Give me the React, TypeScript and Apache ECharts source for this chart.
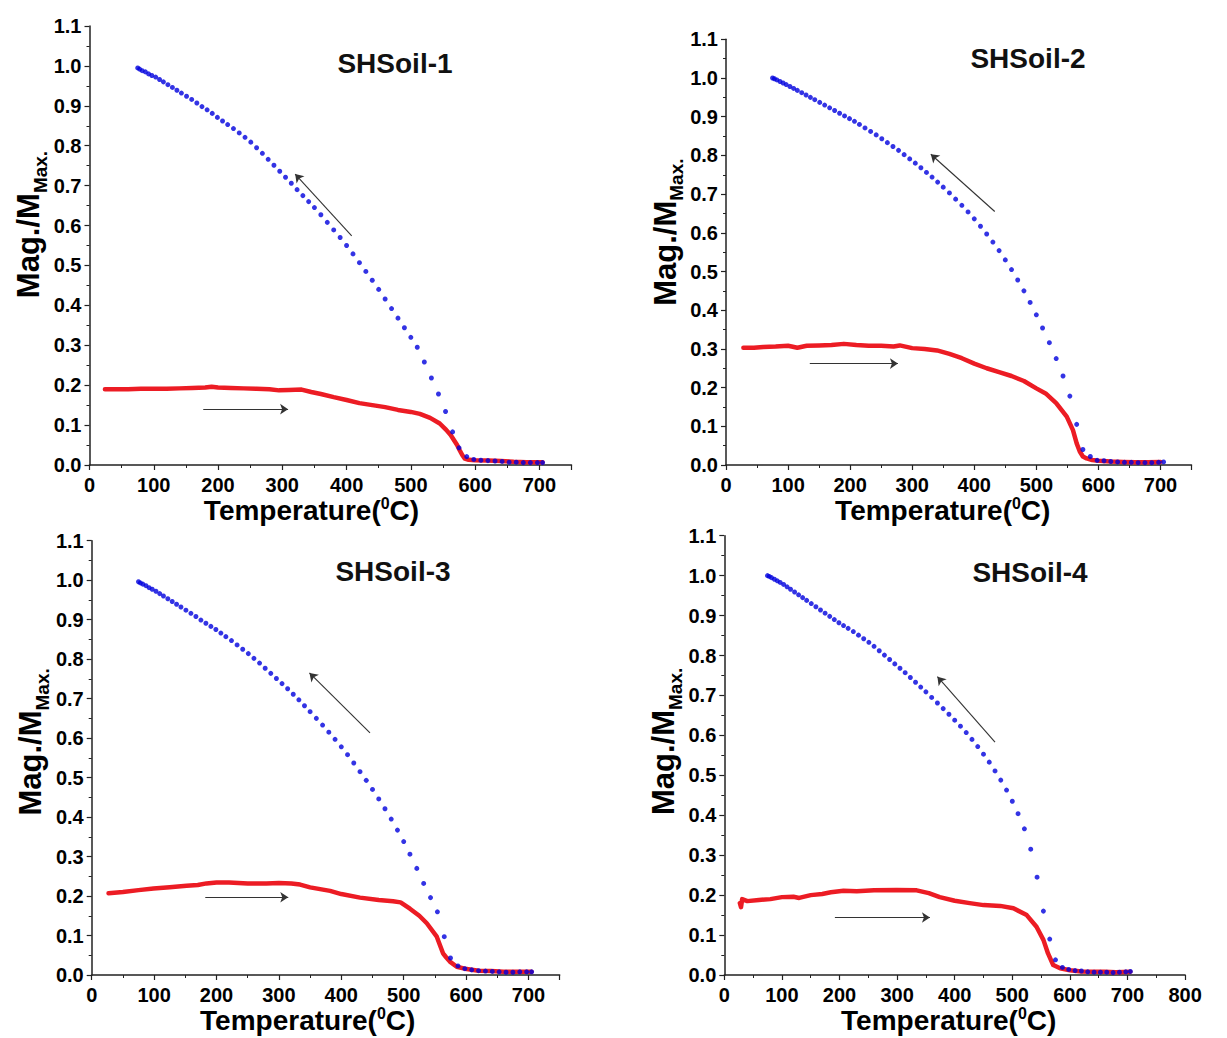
import React, { useEffect, useRef } from "react";
import * as echarts from "echarts";

// ---------- data ----------
const panelTitles = ["SHSoil-1", "SHSoil-2", "SHSoil-3", "SHSoil-4"];
const xAxisMax = [750, 750, 750, 800];

// cooling run (blue dots): shared temperatures (°C)
const coolTemps = [
  75, 78, 82, 87, 92, 97, 103, 109, 115, 122, 129, 136, 143, 151, 159, 167, 175, 183, 191, 199,
  207, 215, 224, 233, 242, 251, 260, 269, 278, 287, 296, 305, 314, 323, 332, 341, 350, 360, 370, 380,
  390, 400, 410, 420, 430, 440, 450, 460, 470, 480, 490, 500, 510, 521, 532, 543, 554, 565, 575, 587,
  598, 609, 620, 631, 642, 653, 664, 675, 686, 697, 705,
];
const cool1 = [
  0.995, 0.992, 0.988, 0.985, 0.98, 0.976, 0.972, 0.966, 0.96, 0.953, 0.946, 0.939, 0.932, 0.924, 0.916, 0.907, 0.898, 0.89, 0.881, 0.871,
  0.862, 0.853, 0.843, 0.832, 0.821, 0.809, 0.795, 0.781, 0.766, 0.751, 0.736, 0.721, 0.706, 0.69, 0.675, 0.66, 0.645, 0.627, 0.608, 0.589,
  0.57, 0.55, 0.529, 0.507, 0.485, 0.463, 0.44, 0.416, 0.392, 0.368, 0.344, 0.32, 0.295, 0.258, 0.218, 0.178, 0.134, 0.083, 0.043, 0.021,
  0.014, 0.012, 0.011, 0.01, 0.009, 0.007, 0.007, 0.006, 0.006, 0.006, 0.006,
];
const cool2 = [
  1.0, 0.998, 0.995, 0.991, 0.987, 0.983, 0.978, 0.973, 0.968, 0.962, 0.956, 0.95, 0.944, 0.937, 0.93, 0.923, 0.916, 0.909, 0.902, 0.895,
  0.888, 0.88, 0.871, 0.862, 0.853, 0.843, 0.833, 0.823, 0.813, 0.802, 0.791, 0.78, 0.768, 0.756, 0.744, 0.731, 0.718, 0.703, 0.687, 0.671,
  0.654, 0.636, 0.617, 0.597, 0.576, 0.554, 0.53, 0.505, 0.478, 0.45, 0.42, 0.388, 0.354, 0.316, 0.275, 0.23, 0.178, 0.105, 0.04, 0.022,
  0.012, 0.011, 0.009, 0.008, 0.007, 0.007, 0.006, 0.006, 0.006, 0.007, 0.008,
];
const cool3 = [
  0.996, 0.993, 0.99, 0.986, 0.981, 0.977, 0.972, 0.966, 0.96, 0.953, 0.946, 0.939, 0.932, 0.924, 0.916, 0.908, 0.899, 0.891, 0.883, 0.875,
  0.866, 0.857, 0.847, 0.836, 0.825, 0.814, 0.802, 0.79, 0.777, 0.764, 0.751, 0.738, 0.725, 0.711, 0.697, 0.682, 0.667, 0.65, 0.633, 0.615,
  0.597, 0.578, 0.558, 0.537, 0.515, 0.493, 0.47, 0.446, 0.421, 0.395, 0.367, 0.338, 0.306, 0.27, 0.232, 0.196, 0.16, 0.097, 0.043, 0.023,
  0.016, 0.013, 0.011, 0.01, 0.009, 0.008, 0.007, 0.007, 0.008, 0.008, 0.008,
];
const cool4 = [
  1.0, 0.998, 0.995, 0.991, 0.987, 0.983, 0.978, 0.972, 0.966, 0.959, 0.952, 0.945, 0.938, 0.93, 0.922, 0.914, 0.906, 0.898, 0.89, 0.882,
  0.875, 0.868, 0.86, 0.851, 0.842, 0.833, 0.823, 0.812, 0.801, 0.79, 0.779, 0.768, 0.757, 0.745, 0.733, 0.721, 0.709, 0.695, 0.681, 0.667,
  0.653, 0.638, 0.623, 0.607, 0.59, 0.572, 0.553, 0.533, 0.511, 0.488, 0.463, 0.435, 0.404, 0.366, 0.315, 0.245, 0.16, 0.09, 0.038, 0.019,
  0.014, 0.011, 0.01, 0.008, 0.007, 0.007, 0.007, 0.006, 0.007, 0.008, 0.009,
];

// heating run (red line)
const heatT1 = [24, 40, 60, 80, 100, 120, 140, 160, 180, 190, 200, 220, 240, 260, 280, 295, 310, 330, 345, 360, 380, 400, 420, 440, 460, 480, 500, 514, 530, 545, 555, 562, 568, 572, 576, 580, 584, 590, 600, 620, 640, 660, 680, 705];
const heatY1 = [0.19, 0.19, 0.19, 0.191, 0.191, 0.191, 0.192, 0.193, 0.194, 0.196, 0.194, 0.193, 0.192, 0.191, 0.19, 0.187, 0.188, 0.189, 0.183, 0.178, 0.17, 0.163, 0.155, 0.15, 0.145, 0.138, 0.133, 0.128, 0.118, 0.104, 0.088, 0.075, 0.06, 0.05, 0.037, 0.025, 0.016, 0.013, 0.012, 0.011, 0.01, 0.008, 0.007, 0.007];
const heatT2 = [28, 45, 60, 80, 100, 115, 130, 150, 170, 190, 210, 230, 250, 270, 280, 300, 320, 340, 360, 380, 400, 420, 440, 460, 480, 500, 515, 532, 549, 559, 565, 570, 575, 581, 590, 600, 620, 640, 660, 680, 700];
const heatY2 = [0.303, 0.303, 0.305, 0.306, 0.308, 0.303, 0.308, 0.309, 0.31, 0.313, 0.31, 0.308, 0.308, 0.306, 0.309, 0.302, 0.3, 0.296, 0.287, 0.276, 0.262, 0.25, 0.24, 0.23, 0.217, 0.198, 0.185, 0.16, 0.125, 0.09, 0.056, 0.035, 0.022, 0.017, 0.013, 0.011, 0.009, 0.008, 0.007, 0.007, 0.008];
const heatT3 = [27, 50, 75, 99, 125, 152, 170, 184, 200, 220, 250, 280, 300, 320, 334, 350, 382, 400, 430, 460, 483, 495, 510, 525, 537, 553, 563, 568, 574, 585, 601, 620, 640, 660, 680, 705];
const heatY3 = [0.207, 0.21, 0.215, 0.219, 0.222, 0.226, 0.228, 0.232, 0.234, 0.234, 0.232, 0.232, 0.233, 0.232, 0.229, 0.222, 0.213, 0.205, 0.196, 0.19, 0.187, 0.184, 0.168, 0.15, 0.131, 0.097, 0.055, 0.045, 0.034, 0.021, 0.015, 0.011, 0.01, 0.008, 0.008, 0.008];
const heatT4 = [27, 29, 31, 40, 60, 80, 100, 120, 130, 150, 170, 185, 207, 230, 260, 299, 334, 355, 374, 400, 426, 450, 479, 502, 525, 542, 554, 562, 571, 583, 600, 620, 640, 660, 680, 705];
const heatY4 = [0.18, 0.17, 0.19, 0.185, 0.188, 0.19, 0.195, 0.196, 0.193, 0.2, 0.203, 0.207, 0.211, 0.21, 0.212, 0.213, 0.212, 0.205, 0.195, 0.186, 0.18, 0.175, 0.173, 0.167, 0.15, 0.121, 0.088, 0.054, 0.025, 0.017, 0.012, 0.009, 0.008, 0.008, 0.007, 0.008];

// annotation arrows (data coordinates: [from, to])
const coolArrows = [
  [[408, 0.574], [320, 0.729]],
  [[433, 0.655], [330, 0.803]],
  [[446, 0.613], [349, 0.765]],
  [[470, 0.583], [370, 0.747]],
];
const heatArrows = [
  [[177, 0.14], [309, 0.14]],
  [[135, 0.262], [277, 0.262]],
  [[182, 0.197], [315, 0.197]],
  [[192, 0.144], [357, 0.144]],
];

const coolSets = [cool1, cool2, cool3, cool4];
const heatSets = [
  [heatT1, heatY1],
  [heatT2, heatY2],
  [heatT3, heatY3],
  [heatT4, heatY4],
];

// ---------- layout ----------
const FF = "'Liberation Sans', Arial, sans-serif";
const grids = [
  { left: 89.5, top: 26, width: 482, height: 439 },
  { left: 726, top: 39.3, width: 465.5, height: 425.7 },
  { left: 91.7, top: 540.7, width: 468, height: 434.3 },
  { left: 724.3, top: 535.7, width: 460.8, height: 439.3 },
];
const yNameShift = [21, 20, 16, 14];
const xNameShift = [19, 16, 18, 6];
const titlePos = [
  [395, 63],
  [1028, 58],
  [393, 571],
  [1030, 572],
];

const RED = "#ec1c24";
const BLUE = "#0000dd";
const AXIS = "#222";

function buildOption() {
  const xAxis: any[] = [];
  const yAxis: any[] = [];
  const series: any[] = [];
  const graphic: any[] = [];

  grids.forEach((g, i) => {
    xAxis.push({
      gridIndex: i,
      type: "value",
      min: 0,
      max: xAxisMax[i],
      interval: 100,
      name: "{a|Temperature(}{s|0}{a|C)}",
      nameLocation: "middle",
      nameGap: 28,
      nameTextStyle: {
        padding: [0, xNameShift[i] * 2, 0, 0],
        rich: {
          a: { fontSize: 28, fontWeight: "bold", fontFamily: FF, color: "#000", lineHeight: 30 },
          s: { fontSize: 16, fontWeight: "bold", fontFamily: FF, color: "#000", lineHeight: 16, verticalAlign: "top" },
        },
      },
      axisLine: { show: true, onZero: false, lineStyle: { color: AXIS, width: 1.5 } },
      axisTick: { show: true, inside: false, length: 5, lineStyle: { color: AXIS, width: 1.2 } },
      minorTick: { show: true, splitNumber: 2, length: 3, lineStyle: { color: AXIS, width: 1 } },
      splitLine: { show: false },
      minorSplitLine: { show: false },
      axisLabel: {
        margin: 10,
        fontSize: 20,
        fontWeight: "bold",
        fontFamily: FF,
        color: "#000",
        formatter: (v: number) => (v % 100 === 0 ? String(v) : ""),
      },
    });
    yAxis.push({
      gridIndex: i,
      type: "value",
      min: 0,
      max: 1.1,
      interval: 0.1,
      name: "{a|Mag./M}{b|Max.}",
      nameLocation: "middle",
      nameRotate: 90,
      nameGap: 32,
      nameTextStyle: {
        padding: [0, 0, 0, yNameShift[i] * 2],
        rich: {
          a: { fontSize: 31, fontWeight: "bold", fontFamily: FF, color: "#000", lineHeight: 42 },
          b: { fontSize: 19, fontWeight: "bold", fontFamily: FF, color: "#000", lineHeight: 19, verticalAlign: "bottom" },
        },
      },
      axisLine: { show: true, onZero: false, lineStyle: { color: AXIS, width: 1.5 } },
      axisTick: { show: true, inside: false, length: 5, lineStyle: { color: AXIS, width: 1.2 } },
      minorTick: { show: true, splitNumber: 2, length: 3, lineStyle: { color: AXIS, width: 1 } },
      splitLine: { show: false },
      minorSplitLine: { show: false },
      axisLabel: {
        margin: 8,
        fontSize: 20,
        fontWeight: "bold",
        fontFamily: FF,
        color: "#000",
        formatter: (v: number) => v.toFixed(1),
      },
    });

    const [hT, hY] = heatSets[i];
    const heatData = hT.map((t, k) => [t, hY[k]]);
    const cool = coolSets[i];
    const coolData = coolTemps.slice(0, cool.length).map((t, k) => [t, cool[k]]);

    const arrowLine = (a: number[][]) => [{ coord: a[0] }, { coord: a[1] }];

    series.push({
      type: "line",
      xAxisIndex: i,
      yAxisIndex: i,
      data: heatData,
      showSymbol: false,
      symbol: "none",
      smooth: false,
      lineStyle: { color: RED, width: 4.5, join: "round", cap: "round" },
      itemStyle: { color: RED },
      z: 2,
      silent: true,
      markLine: {
        silent: true,
        symbol: ["none", "arrow"],
        symbolSize: 8,
        label: { show: false },
        lineStyle: { color: "#333", width: 1.1, type: "solid" },
        data: [arrowLine(coolArrows[i]), arrowLine(heatArrows[i])],
      },
    });
    series.push({
      type: "scatter",
      xAxisIndex: i,
      yAxisIndex: i,
      data: coolData,
      symbol: "circle",
      symbolSize: 5,
      itemStyle: { color: BLUE },
      z: 3,
      silent: true,
    });

    graphic.push({
      type: "text",
      x: titlePos[i][0],
      y: titlePos[i][1],
      style: {
        text: panelTitles[i],
        align: "center",
        verticalAlign: "middle",
        textAlign: "center",
        textVerticalAlign: "middle",
        fontSize: 28,
        fontWeight: "bold",
        fontFamily: FF,
        fill: "#111",
      },
    });
  });

  return {
    animation: false,
    backgroundColor: "#ffffff",
    grid: grids.map((g) => ({ ...g, containLabel: false })),
    xAxis,
    yAxis,
    series,
    graphic,
  };
}

export default function App() {
  const ref = useRef<HTMLDivElement>(null);
  useEffect(() => {
    if (!ref.current) return;
    const chart = echarts.init(ref.current, undefined, { renderer: "svg" });
    chart.setOption(buildOption() as any);
    return () => chart.dispose();
  }, []);
  return (
    <div
      ref={ref}
      style={{ position: "absolute", left: 0, top: 0, width: 1227, height: 1038, background: "#fff" }}
    />
  );
}
